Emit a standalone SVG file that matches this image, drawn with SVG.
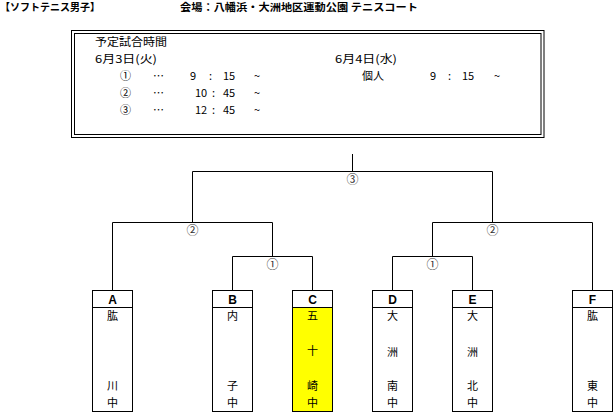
<svg xmlns="http://www.w3.org/2000/svg" width="616" height="418" viewBox="0 0 616 418">
<style>
text{font-family:"Noto Sans CJK JP","Noto Sans",sans-serif;fill:#000;}
.title{font-size:10px;font-weight:bold;}
.t{font-size:11px;}
.lbl{font-size:12px;fill:#333;text-anchor:middle;}
.hd{font-size:12px;font-weight:bold;text-anchor:middle;font-family:"Liberation Sans",Arial,sans-serif;}
.nm{font-size:11px;text-anchor:middle;}
.ln{stroke:#000;stroke-width:1;fill:none;}
.box{stroke:#000;stroke-width:1;fill:#fff;}
</style>
<rect width="616" height="418" fill="#fff"/>
<g id="title">
<text class="title" x="0" y="11" textLength="100" lengthAdjust="spacingAndGlyphs">【ソフトテニス男子】</text>
<text class="title" x="180" y="11" textLength="238" lengthAdjust="spacingAndGlyphs">会場：八幡浜・大洲地区運動公園 テニスコート</text>
</g>
<g id="schedule">
<rect x="71.5" y="30.5" width="472.5" height="107" class="ln"/>
<rect x="74.5" y="33.5" width="466.5" height="101" class="ln"/>
<text class="t" x="95" y="46" textLength="72" lengthAdjust="spacingAndGlyphs">予定試合時間</text>
<text class="t" x="95" y="63" textLength="62" lengthAdjust="spacingAndGlyphs">6月3日(火)</text>
<text class="t" y="80"><tspan x="120">①</tspan><tspan x="153">…</tspan><tspan x="190">9</tspan><tspan x="209">:</tspan><tspan x="223">15</tspan><tspan x="254">~</tspan></text>
<text class="t" y="97"><tspan x="120">②</tspan><tspan x="153">…</tspan><tspan x="195">10</tspan><tspan x="212">:</tspan><tspan x="223">45</tspan><tspan x="254">~</tspan></text>
<text class="t" y="114"><tspan x="120">③</tspan><tspan x="153">…</tspan><tspan x="195">12</tspan><tspan x="212">:</tspan><tspan x="223">45</tspan><tspan x="254">~</tspan></text>
<text class="t" x="335" y="63" textLength="62" lengthAdjust="spacingAndGlyphs">6月4日(水)</text>
<text class="t" y="80"><tspan x="362">個人</tspan><tspan x="430">9</tspan><tspan x="448">:</tspan><tspan x="462">15</tspan><tspan x="494">~</tspan></text>
</g>
<g id="connectors">
<path class="ln" d="M352.5 154V171.5M192.5 222V171.5H492.5V222"/>
<path class="ln" d="M112.5 290V222.5H272.5V256M432.5 256V222.5H592.5V290"/>
<path class="ln" d="M232.5 290V256.5H312.5V290M392.5 290V256.5H472.5V290"/>
<text class="lbl" x="352.5" y="183.5">③</text>
<text class="lbl" x="192.5" y="235">②</text>
<text class="lbl" x="492.5" y="235">②</text>
<text class="lbl" x="272.5" y="268.5">①</text>
<text class="lbl" x="432.5" y="268.5">①</text>
</g>
<g id="A">
<rect class="box" x="92.5" y="290.5" width="40" height="121"/>
<line class="ln" x1="92.5" y1="307.5" x2="132.5" y2="307.5"/>
<text class="hd" x="112.5" y="303.5">A</text>
<text class="nm" x="112.5" y="320">肱</text>
<text class="nm" x="112.5" y="390">川</text>
<text class="nm" x="112.5" y="406.5">中</text>
</g>
<g id="B">
<rect class="box" x="212.5" y="290.5" width="40" height="121"/>
<line class="ln" x1="212.5" y1="307.5" x2="252.5" y2="307.5"/>
<text class="hd" x="232.5" y="303.5">B</text>
<text class="nm" x="232.5" y="320">内</text>
<text class="nm" x="232.5" y="390">子</text>
<text class="nm" x="232.5" y="406.5">中</text>
</g>
<g id="C">
<rect class="box" x="292.5" y="290.5" width="40" height="121"/>
<rect x="293" y="308" width="39" height="103" fill="#ffff00"/>
<line class="ln" x1="292.5" y1="307.5" x2="332.5" y2="307.5"/>
<text class="hd" x="312.5" y="303.5">C</text>
<text class="nm" x="312.5" y="320">五</text>
<text class="nm" x="312.5" y="354.5">十</text>
<text class="nm" x="312.5" y="390">崎</text>
<text class="nm" x="312.5" y="406.5">中</text>
</g>
<g id="D">
<rect class="box" x="372.5" y="290.5" width="40" height="121"/>
<line class="ln" x1="372.5" y1="307.5" x2="412.5" y2="307.5"/>
<text class="hd" x="392.5" y="303.5">D</text>
<text class="nm" x="392.5" y="320">大</text>
<text class="nm" x="392.5" y="355.5">洲</text>
<text class="nm" x="392.5" y="390">南</text>
<text class="nm" x="392.5" y="406.5">中</text>
</g>
<g id="E">
<rect class="box" x="452.5" y="290.5" width="40" height="121"/>
<line class="ln" x1="452.5" y1="307.5" x2="492.5" y2="307.5"/>
<text class="hd" x="472.5" y="303.5">E</text>
<text class="nm" x="472.5" y="320">大</text>
<text class="nm" x="472.5" y="355.5">洲</text>
<text class="nm" x="472.5" y="390">北</text>
<text class="nm" x="472.5" y="406.5">中</text>
</g>
<g id="F">
<rect class="box" x="572.5" y="290.5" width="40" height="121"/>
<line class="ln" x1="572.5" y1="307.5" x2="612.5" y2="307.5"/>
<text class="hd" x="592.5" y="303.5">F</text>
<text class="nm" x="592.5" y="320">肱</text>
<text class="nm" x="592.5" y="390">東</text>
<text class="nm" x="592.5" y="406.5">中</text>
</g>
</svg>
